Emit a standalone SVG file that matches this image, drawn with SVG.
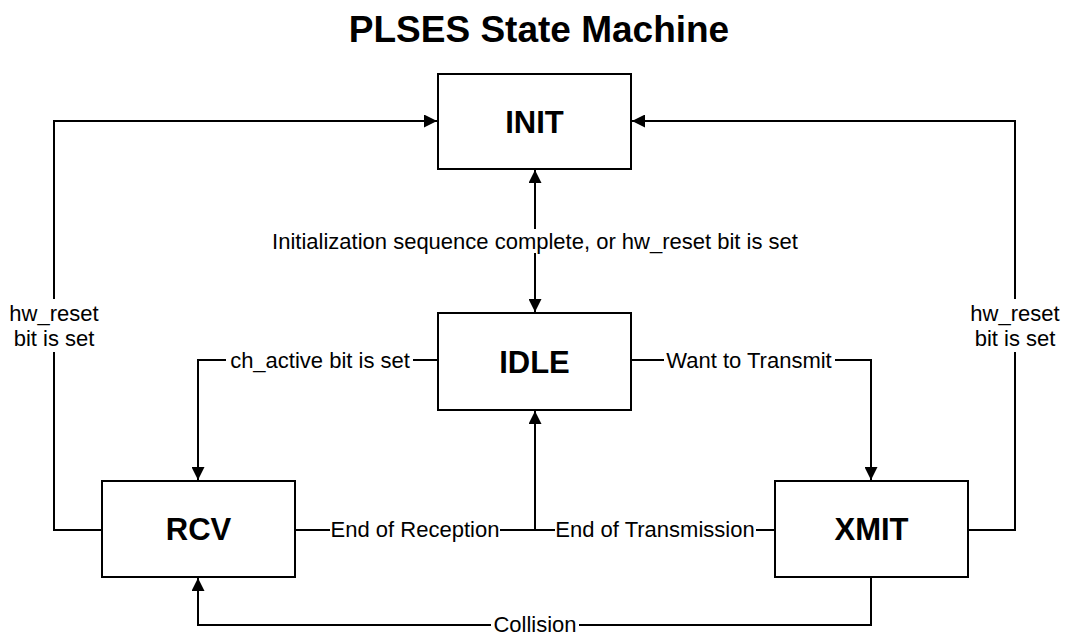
<svg xmlns="http://www.w3.org/2000/svg" width="1070" height="635" viewBox="0 0 1070 635">
<style>
.box{fill:#fff;stroke:#000;stroke-width:2}
.node{font-family:"Liberation Sans",Arial,sans-serif;font-weight:bold;font-size:31px;text-anchor:middle;fill:#000}
.title{font-family:"Liberation Sans",Arial,sans-serif;font-weight:bold;font-size:37px;text-anchor:middle;fill:#000}
.conn{fill:none;stroke:#000;stroke-width:2}
.lbl{font-family:"Liberation Sans",Arial,sans-serif;font-size:22px;text-anchor:middle;fill:#000}
.bg{fill:#fff;stroke:none}
</style>
<defs>
<marker id="arr" markerUnits="userSpaceOnUse" markerWidth="14" markerHeight="13" refX="13" refY="6.5" orient="auto-start-reverse">
<path d="M0,0 L13,6.5 L0,13 z" fill="#000"/>
</marker>
</defs>
<rect width="1070" height="635" fill="#fff"/>
<text class="title" x="539" y="42">PLSES State Machine</text>
<g id="connectors">
<path class="conn" d="M102,530 H54 V121 H437" marker-end="url(#arr)"/>
<path class="conn" d="M967,530 H1015 V121 H632" marker-end="url(#arr)"/>
<path class="conn" d="M535,170 V312" marker-start="url(#arr)" marker-end="url(#arr)"/>
<path class="conn" d="M438,360 H198 V480" marker-end="url(#arr)"/>
<path class="conn" d="M631,360 H871 V480" marker-end="url(#arr)"/>
<path class="conn" d="M295,530 H535 V411" marker-end="url(#arr)"/>
<path class="conn" d="M775,530 H535"/>
<path class="conn" d="M871,577 V625 H198 V578" marker-end="url(#arr)"/>
<rect class="bg" x="270" y="229" width="532" height="24"/>
<text class="lbl" x="535" y="249">Initialization sequence complete, or hw_reset bit is set</text>
<rect class="bg" x="6" y="299" width="96" height="53"/>
<text class="lbl" x="54" y="321">hw_reset</text>
<text class="lbl" x="54" y="346">bit is set</text>
<rect class="bg" x="967" y="299" width="96" height="53"/>
<text class="lbl" x="1015" y="321">hw_reset</text>
<text class="lbl" x="1015" y="346">bit is set</text>
<rect class="bg" x="226" y="348" width="187" height="24"/>
<text class="lbl" x="320" y="368">ch_active bit is set</text>
<rect class="bg" x="664" y="348" width="171" height="24"/>
<text class="lbl" x="749" y="368">Want to Transmit</text>
<rect class="bg" x="330" y="517" width="170" height="24"/>
<text class="lbl" x="415" y="537">End of Reception</text>
<rect class="bg" x="555" y="517" width="201" height="24"/>
<text class="lbl" x="655" y="537">End of Transmission</text>
<rect class="bg" x="491" y="613" width="88" height="22"/>
<text class="lbl" x="535" y="632">Collision</text>
</g>
<g id="node-init">
<rect class="box" x="438" y="74" width="193" height="95"/>
<text class="node" x="534.5" y="133">INIT</text>
</g>
<g id="node-idle">
<rect class="box" x="438" y="313" width="193" height="97"/>
<text class="node" x="534.5" y="373">IDLE</text>
</g>
<g id="node-rcv">
<rect class="box" x="102" y="481" width="193" height="96"/>
<text class="node" x="198.5" y="540">RCV</text>
</g>
<g id="node-xmit">
<rect class="box" x="775" y="481" width="193" height="96"/>
<text class="node" x="871.5" y="540">XMIT</text>
</g>
</svg>
